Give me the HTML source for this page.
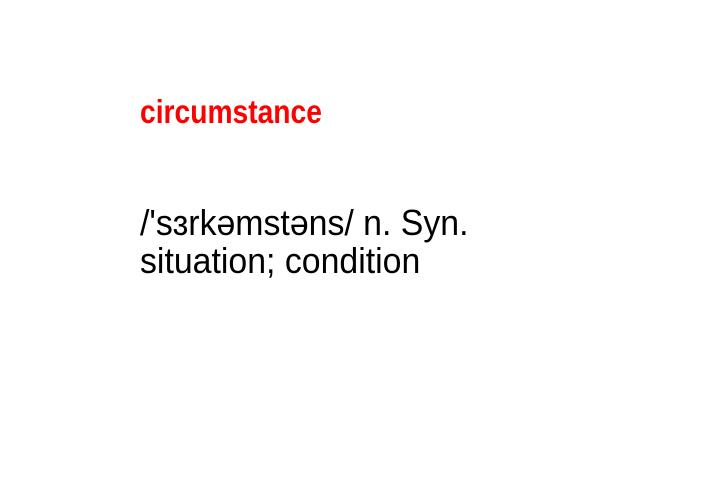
<!DOCTYPE html>
<html><head><meta charset="utf-8"><style>
html,body{margin:0;padding:0;background:#fff;width:702px;height:496px;overflow:hidden;position:relative}
.t{position:absolute;left:140px;white-space:nowrap;transform-origin:0 0;font-family:"Liberation Sans",sans-serif}
#w{top:93px;font-size:33px;font-weight:bold;color:#f00;line-height:38px;transform:scaleX(0.855)}
#d{top:204px;font-size:36px;color:#000;line-height:38px;transform:scaleX(0.94)}
</style></head><body>
<div id="w" class="t">circumstance</div>
<div id="d" class="t">/'sɜrkəmstəns/ n. Syn.<br>situation; condition</div>
</body></html>
